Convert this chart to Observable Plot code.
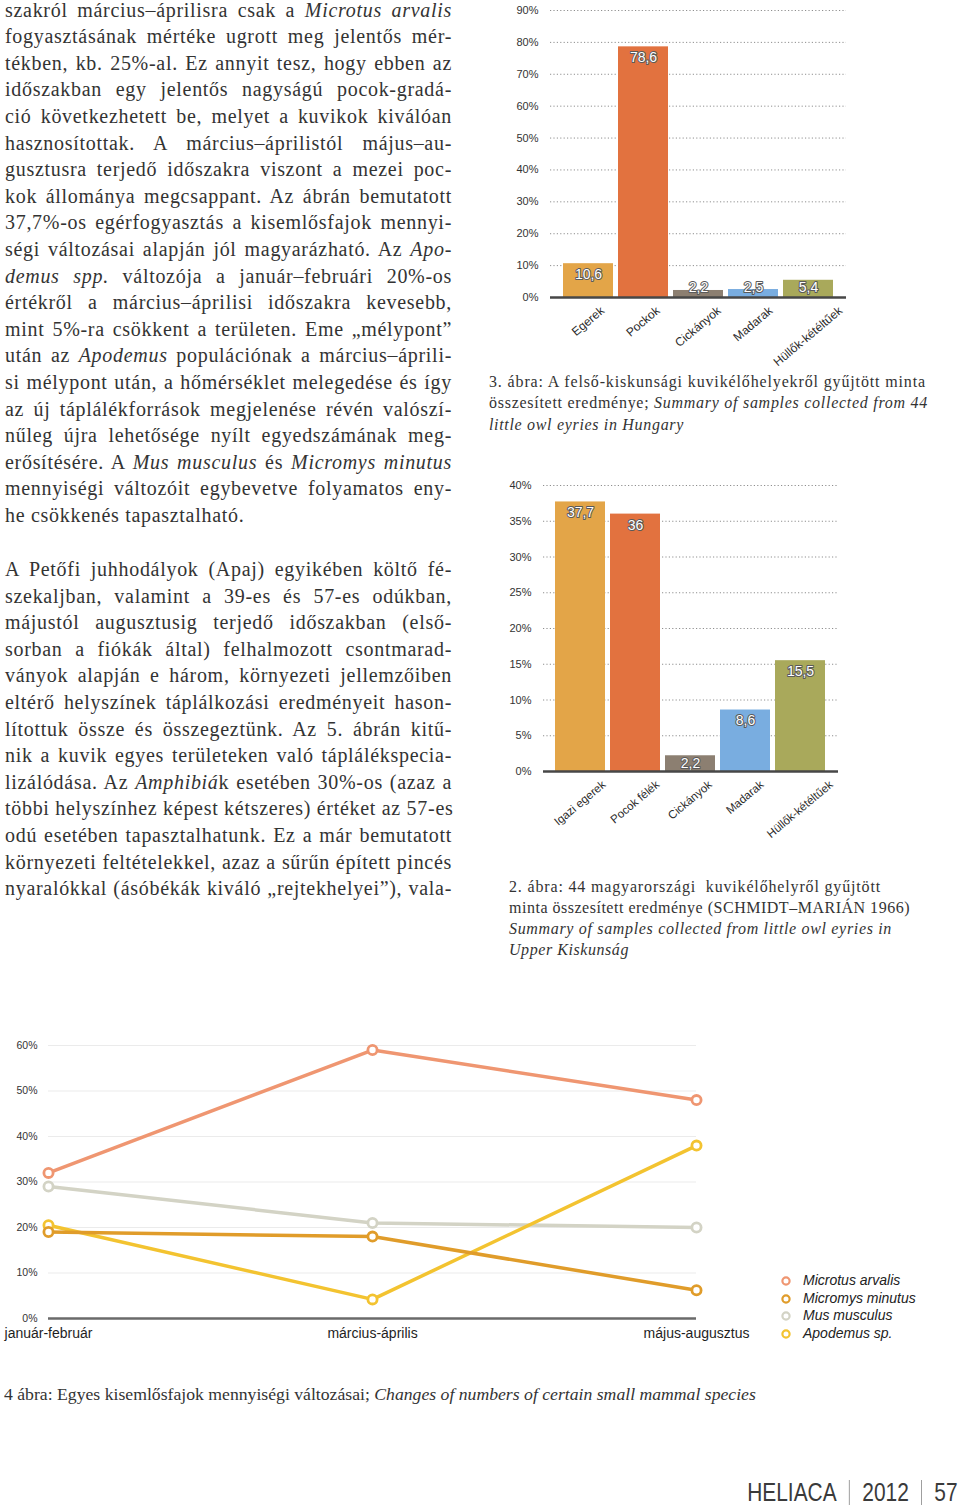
<!DOCTYPE html>
<html lang="hu">
<head>
<meta charset="utf-8">
<script src="https://cdn.jsdelivr.net/npm/d3@7"></script>
<script src="https://cdn.jsdelivr.net/npm/@observablehq/plot@0.6"></script>
<style>
  html, body { margin: 0; padding: 0; background: #fff; }
  body { position: relative; width: 960px; height: 1507px; overflow: hidden; }
  .abs { position: absolute; }
  .bodytext { font-family: "Liberation Serif", "Times New Roman", serif; font-size: 20px; line-height: 26.6px; color: #333; width: 447px; letter-spacing: 0.7px; }
  .bodytext div { text-align: justify; text-align-last: justify; white-space: nowrap; }
  .bodytext div.last { text-align-last: left; }
  .caption { font-family: "Liberation Serif", "Times New Roman", serif; font-size: 16px; line-height: 21.3px; color: #333; white-space: nowrap; }
  .caption div { display: block; width: max-content; }
  .cap4 { font-family: "Liberation Serif", "Times New Roman", serif; font-size: 17px; color: #333; white-space: nowrap; transform-origin: 0 0; }
  #legend { font-family: "Liberation Sans", Arial, sans-serif; font-style: italic; font-size: 14px; color: #222; line-height: 17.7px; }
  #legend .item { display: flex; align-items: center; height: 17.7px; }
  #legend svg { margin-right: 10px; }
  #footer { display: flex; align-items: center; font-family: "Liberation Sans", Arial, sans-serif; font-size: 25.5px; color: #3a3a3a; transform: scaleX(0.82); transform-origin: right center; }
  #footer .sep { width: 1.2px; height: 25px; background: #8a8a8a; margin: 0 15px; }
  svg { overflow: visible; }
</style>
</head>
<body>

<div class="abs bodytext" style="left:5px; top:-3.3px;">
  <div>szakról március–áprilisra csak a <i>Microtus arvalis</i></div>
  <div>fogyasztásának mértéke ugrott meg jelentős mér-</div>
  <div>tékben, kb. 25%-al. Ez annyit tesz, hogy ebben az</div>
  <div>időszakban egy jelentős nagyságú pocok-gradá-</div>
  <div>ció következhetett be, melyet a kuvikok kiválóan</div>
  <div>hasznosítottak. A március–áprilistól május–au-</div>
  <div>gusztusra terjedő időszakra viszont a mezei poc-</div>
  <div>kok állománya megcsappant. Az ábrán bemutatott</div>
  <div>37,7%-os egérfogyasztás a kisemlősfajok mennyi-</div>
  <div>ségi változásai alapján jól magyarázható. Az <i>Apo-</i></div>
  <div><i>demus spp.</i> változója a január–februári 20%-os</div>
  <div>értékről a március–áprilisi időszakra kevesebb,</div>
  <div>mint 5%-ra csökkent a területen. Eme „mélypont”</div>
  <div>után az <i>Apodemus</i> populációnak a március–áprili-</div>
  <div>si mélypont után, a hőmérséklet melegedése és így</div>
  <div>az új táplálékforrások megjelenése révén valószí-</div>
  <div>nűleg újra lehetősége nyílt egyedszámának meg-</div>
  <div>erősítésére. A <i>Mus musculus</i> és <i>Micromys minutus</i></div>
  <div>mennyiségi változóit egybevetve folyamatos eny-</div>
  <div class="last">he csökkenés tapasztalható.</div>
</div>

<div class="abs bodytext" style="left:5px; top:556px;">
  <div>A Petőfi juhhodályok (Apaj) egyikében költő fé-</div>
  <div>szekaljban, valamint a 39-es és 57-es odúkban,</div>
  <div>májustól augusztusig terjedő időszakban (első-</div>
  <div>sorban a fiókák által) felhalmozott csontmarad-</div>
  <div>ványok alapján e három, környezeti jellemzőiben</div>
  <div>eltérő helyszínek táplálkozási eredményeit hason-</div>
  <div>lítottuk össze és összegeztünk. Az 5. ábrán kitű-</div>
  <div>nik a kuvik egyes területeken való táplálékspecia-</div>
  <div>lizálódása. Az <i>Amphibiá</i>k esetében 30%-os (azaz a</div>
  <div>többi helyszínhez képest kétszeres) értéket az 57-es</div>
  <div>odú esetében tapasztalhatunk. Ez a már bemutatott</div>
  <div>környezeti feltételekkel, azaz a sűrűn épített pincés</div>
  <div>nyaralókkal (ásóbékák kiváló „rejtekhelyei”), vala-</div>
</div>

<div id="chart3" class="abs" style="left:490px; top:0px;"></div>
<div id="cap3" class="abs caption" style="left:489px; top:371px;">
  <div>3. ábra: A felső-kiskunsági kuvikélőhelyekről gyűjtött minta</div>
  <div>összesített eredménye; <i>Summary of samples collected from 44</i></div>
  <div><i>little owl eyries in Hungary</i></div>
</div>

<div id="chart2" class="abs" style="left:495px; top:470px;"></div>
<div id="cap2" class="abs caption" style="left:509px; top:876px; line-height:21px;">
  <div>2. ábra: 44 magyarországi&nbsp; kuvikélőhelyről gyűjtött</div>
  <div>minta összesített eredménye (SCHMIDT–MARIÁN 1966)</div>
  <div><i>Summary of samples collected from little owl eyries in</i></div>
  <div><i>Upper Kiskunság</i></div>
</div>

<div id="chart4" class="abs" style="left:0px; top:1030px;"></div>
<div id="legend" class="abs" style="left:779px; top:1272px;"></div>

<div id="cap4" class="abs cap4" style="left:4px; top:1385px;">4 ábra: Egyes kisemlősfajok mennyiségi változásai; <i>Changes of numbers of certain small mammal species</i></div>

<div id="footer" class="abs" style="right:2px; top:1478px;">
  <span>HELIACA</span><span class="sep"></span><span>2012</span><span class="sep"></span><span>57</span>
</div>

<script>
// ---------- DATA ----------
// 3. ábra (felső-kiskunsági kuvikélőhelyek)
const cats3 = ["Egerek", "Pockok", "Cickányok", "Madarak", "Hüllők-kétéltűek"];
const vals3 = [10.6, 78.6, 2.2, 2.5, 5.4];
const ticks3 = [0, 10, 20, 30, 40, 50, 60, 70, 80, 90];

// 2. ábra (44 magyarországi kuvikélőhely)
const cats2 = ["Igazi egerek", "Pocok félék", "Cickányok", "Madarak", "Hüllők-kétéltűek"];
const vals2 = [37.7, 36, 2.2, 8.6, 15.5];
const ticks2 = [0, 5, 10, 15, 20, 25, 30, 35, 40];

const barColors = ["#e3a548", "#e2723f", "#8c7f71", "#79ade0", "#a9a95b"];

// 4. ábra (kisemlősfajok mennyiségi változásai)
const periods = ["január-február", "március-április", "május-augusztus"];
const species = ["Microtus arvalis", "Micromys minutus", "Mus musculus", "Apodemus sp."];
const microtusArvalis = [32, 59, 48];
const micromysMinutus = [19, 18, 6.2];
const musMusculus = [29, 21, 20];
const apodemusSp = [20.5, 4.2, 38];
const ticks4 = [0, 10, 20, 30, 40, 50, 60];
const speciesColors = ["#ef9671", "#e09c2a", "#d3d3c5", "#f3c330"];

// caption line widths (layout)
const cap3Widths = [437, 439, 195];
const cap2Widths = [372, 401, 383, 120];

// ---------- HELPERS ----------
const fmt = v => String(v).replace(".", ",");
const plotStyle = { fontFamily: "'Liberation Sans', Arial, sans-serif", color: "#333", background: "transparent", overflow: "visible" };

function barChart(cats, vals, ticks, cfg) {
  const rows = cats.map((c, i) => ({ cat: c, v: vals[i], color: barColors[i] }));
  return Plot.plot({
    width: cfg.width, height: cfg.height,
    marginLeft: cfg.ml, marginRight: cfg.mr, marginTop: cfg.mt, marginBottom: cfg.mb,
    style: plotStyle,
    x: { domain: cats, paddingInner: cfg.padIn, paddingOuter: cfg.padOut },
    y: { domain: [ticks[0], ticks[ticks.length - 1]] },
    color: { type: "identity" },
    marks: [
      Plot.ruleY(ticks.filter(t => t > 0), { stroke: "#8f8f8f", strokeWidth: 1, strokeDasharray: "1.2,2.2" }),
      Plot.barY(rows, { x: "cat", y: "v", fill: "color" }),
      Plot.ruleY([0], { stroke: "#474747", strokeWidth: 2.4 }),
      Plot.axisY({ ticks, tickFormat: d => d + "%", tickSize: 0, tickPadding: 12, fontSize: 11, label: null }),
      Plot.axisX({ tickSize: 0, tickRotate: -40, fontSize: cfg.xFont, label: null }),
      Plot.text(rows, {
        x: "cat", y: d => Math.max(d.v, cfg.minLabel), dy: 11, text: d => fmt(d.v),
        fill: "white", stroke: "#5a5a5a", strokeWidth: 2, fontSize: 14
      })
    ]
  });
}

// rotated category labels: centred on the bar, top end just under the baseline
function placeXLabels(chart, baseY, angleDeg, fontSize) {
  const xs = chart.scale("x");
  const a = angleDeg * Math.PI / 180;
  chart.querySelectorAll('g[aria-label="x-axis tick label"] text').forEach(t => {
    const cat = t.textContent;
    const L = t.getComputedTextLength();
    const cx = xs.apply(cat) + xs.bandwidth / 2;
    const cy = baseY + 12 + (L / 2) * Math.sin(a);
    t.setAttribute("transform", `translate(${cx},${cy}) rotate(${-angleDeg})`);
    t.setAttribute("text-anchor", "middle");
    t.setAttribute("x", 0);
    t.setAttribute("y", "0.32em");
    t.removeAttribute("dy");
    t.setAttribute("font-size", fontSize);
    t.setAttribute("fill", "#2a2a2a");
    chart.appendChild(t);
  });
}

// ---------- CHART 3 ----------
const cfg3 = { width: 370, height: 370, ml: 60, mr: 14, mt: 10, mb: 73, padIn: 0.085, padOut: 0.2, minLabel: 6.6, xFont: 12 };
const c3 = barChart(cats3, vals3, ticks3, cfg3);
document.getElementById("chart3").appendChild(c3);
placeXLabels(c3, cfg3.height - cfg3.mb, 40, 12);

// ---------- CHART 2 ----------
const cfg2 = { width: 350, height: 370, ml: 48, mr: 7, mt: 15, mb: 69, padIn: 0.09, padOut: 0.18, minLabel: 2.66, xFont: 11.5 };
const c2 = barChart(cats2, vals2, ticks2, cfg2);
document.getElementById("chart2").appendChild(c2);
placeXLabels(c2, cfg2.height - cfg2.mb, 40, 11.5);

// ---------- CHART 4 (lines) ----------
const seriesByName = {
  "Microtus arvalis": microtusArvalis,
  "Micromys minutus": micromysMinutus,
  "Mus musculus": musMusculus,
  "Apodemus sp.": apodemusSp
};
const drawOrder = ["Microtus arvalis", "Mus musculus", "Apodemus sp.", "Micromys minutus"];
const lineRows = [];
drawOrder.forEach(name => periods.forEach((p, i) => lineRows.push({ species: name, period: p, v: seriesByName[name][i] })));

const c4 = Plot.plot({
  width: 720, height: 320, marginLeft: 48, marginRight: 24, marginTop: 15, marginBottom: 32,
  style: plotStyle,
  x: { type: "point", domain: periods, padding: 0 },
  y: { domain: [0, 60] },
  color: { domain: species, range: speciesColors },
  marks: [
    Plot.ruleY(ticks4.filter(t => t > 0), { stroke: "#ebebeb", strokeWidth: 1.2 }),
    Plot.ruleY([0], { stroke: "#6a6a6a", strokeWidth: 2.5 }),
    Plot.axisY({ ticks: ticks4, tickFormat: d => d + "%", tickSize: 0, tickPadding: 11, fontSize: 10.5, label: null }),
    Plot.axisX({ tickSize: 0, tickPadding: 10, fontSize: 14, label: null, fill: "#1e1e1e" }),
    Plot.line(lineRows, { x: "period", y: "v", z: "species", stroke: "species", strokeWidth: 3.5 }),
    Plot.dot(lineRows, { x: "period", y: "v", stroke: "species", fill: "white", r: 4.6, strokeWidth: 2.8 })
  ]
});
document.getElementById("chart4").appendChild(c4);

// legend
const legend = document.getElementById("legend");
species.forEach((name, i) => {
  const item = document.createElement("div");
  item.className = "item";
  item.innerHTML = `<svg width="14" height="14"><circle cx="7" cy="7" r="3.6" fill="white" stroke="${speciesColors[i]}" stroke-width="2.2"/></svg><span>${name}</span>`;
  legend.appendChild(item);
});

// caption line fitting (letter-spacing so each line spans its printed width)
function fitLines(id, widths) {
  const lines = document.getElementById(id).children;
  Array.from(lines).forEach((el, i) => {
    const w = el.getBoundingClientRect().width;
    const n = el.textContent.length;
    el.style.letterSpacing = ((widths[i] - w) / n) + "px";
  });
}
fitLines("cap3", cap3Widths);
fitLines("cap2", cap2Widths);

// caption 4 width fit
const cap4 = document.getElementById("cap4");
cap4.style.transform = `scaleX(${752 / cap4.scrollWidth})`;
</script>
</body>
</html>
